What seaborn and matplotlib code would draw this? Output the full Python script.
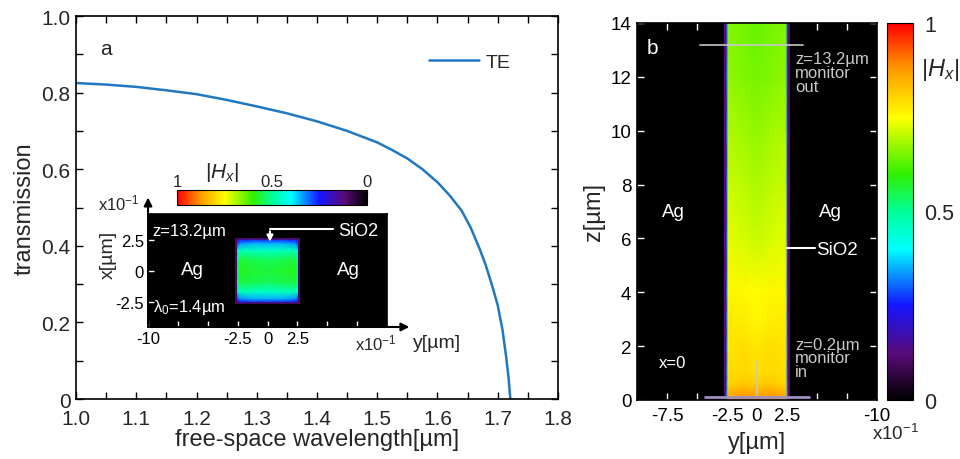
import numpy as np
import matplotlib
matplotlib.use('Agg')
import matplotlib.pyplot as plt
import seaborn as sns
from matplotlib.colors import LinearSegmentedColormap, Normalize
from matplotlib.ticker import MultipleLocator
from matplotlib.patches import Rectangle

# ---------------- data ----------------
wavelength = [1.0, 1.05, 1.1, 1.15, 1.2, 1.25, 1.3, 1.35, 1.4, 1.45, 1.5, 1.525, 1.55,
              1.575, 1.6, 1.62, 1.64, 1.655, 1.67, 1.68, 1.69, 1.7, 1.708, 1.714, 1.718, 1.721]
transmission = [0.825, 0.821, 0.815, 0.806, 0.796, 0.781, 0.764, 0.746, 0.725, 0.700, 0.670,
                0.650, 0.628, 0.600, 0.566, 0.532, 0.492, 0.448, 0.392, 0.350, 0.300, 0.245,
                0.180, 0.110, 0.055, 0.0]

wl_ticks = [1.0, 1.1, 1.2, 1.3, 1.4, 1.5, 1.6, 1.7, 1.8]
wl_labels = ['1.0', '1.1', '1.2', '1.3', '1.4', '1.5', '1.6', '1.7', '1.8']
tr_ticks = [0, 0.2, 0.4, 0.6, 0.8, 1.0]
tr_labels = ['0', '0.2', '0.4', '0.6', '0.8', '1.0']

# inset cross-section field |Hx| at z=13.2um (nodes, units x1e-1 um)
inset_y = [-2.5, -2.3, -1.2, 0, 1.2, 2.3, 2.5]
inset_x = [-2.5, -2.25, -1.7, -0.9, 0, 0.9, 1.7, 2.25, 2.5]
inset_H = [
    [0.20, 0.26, 0.27, 0.27, 0.27, 0.26, 0.20],
    [0.28, 0.33, 0.35, 0.35, 0.35, 0.33, 0.28],
    [0.42, 0.47, 0.46, 0.45, 0.46, 0.47, 0.42],
    [0.50, 0.56, 0.55, 0.54, 0.55, 0.56, 0.50],
    [0.52, 0.58, 0.57, 0.56, 0.57, 0.58, 0.52],
    [0.50, 0.56, 0.55, 0.54, 0.55, 0.56, 0.50],
    [0.42, 0.47, 0.46, 0.45, 0.46, 0.47, 0.42],
    [0.28, 0.33, 0.35, 0.35, 0.35, 0.33, 0.28],
    [0.20, 0.26, 0.27, 0.27, 0.27, 0.26, 0.20],
]
inset_xticks = [-10, -7.5, -5, -2.5, 0, 2.5, 5, 7.5]
inset_xlabels = ['-10', '', '', '-2.5', '0', '2.5', '', '']
inset_yticks = [-2.5, 0, 2.5]
inset_ylabels = ['-2.5', '0', '2.5']

# longitudinal field |Hx| at x=0 (nodes)
strip_y = [-2.5, -2.4, -1.2, 0, 1.2, 2.4, 2.5]
strip_z = [0, 0.3, 0.6, 1, 2, 3, 4, 6, 8, 10, 12, 14]
strip_H = [
    [0.35, 0.86, 0.88, 0.87, 0.88, 0.86, 0.35],
    [0.35, 0.84, 0.86, 0.85, 0.86, 0.84, 0.35],
    [0.33, 0.80, 0.82, 0.81, 0.82, 0.80, 0.33],
    [0.32, 0.79, 0.80, 0.79, 0.80, 0.79, 0.32],
    [0.32, 0.78, 0.79, 0.78, 0.79, 0.78, 0.32],
    [0.31, 0.77, 0.77, 0.76, 0.77, 0.77, 0.31],
    [0.31, 0.76, 0.76, 0.75, 0.76, 0.76, 0.31],
    [0.30, 0.73, 0.72, 0.71, 0.72, 0.73, 0.30],
    [0.30, 0.71, 0.70, 0.69, 0.70, 0.71, 0.30],
    [0.30, 0.69, 0.68, 0.67, 0.68, 0.69, 0.30],
    [0.30, 0.67, 0.66, 0.65, 0.66, 0.67, 0.30],
    [0.30, 0.66, 0.65, 0.64, 0.65, 0.66, 0.30],
]
b_xticks = [-7.5, -5, -2.5, 0, 2.5, 5, 7.5, 10]
b_xlabels = ['-7.5', '', '-2.5', '0', '2.5', '', '', '-10']
b_yticks = [0, 2, 4, 6, 8, 10, 12, 14]
cbar_ticks = [0, 0.5, 1]
cbar_labels = ['0', '0.5', '1']

# ---------------- style ----------------
sns.set_theme(style='ticks')
plt.rcParams['font.family'] = ['Liberation Sans', 'DejaVu Sans']
plt.rcParams['mathtext.fontset'] = 'custom'
plt.rcParams['mathtext.rm'] = 'Liberation Sans'
plt.rcParams['mathtext.it'] = 'Liberation Sans:italic'
plt.rcParams['mathtext.bf'] = 'Liberation Sans:bold'
plt.rcParams['axes.edgecolor'] = 'black'
plt.rcParams['axes.linewidth'] = 1.2

cmap = LinearSegmentedColormap.from_list('hx', [
    (0.0, '#000000'), (0.12, '#5a0a78'), (0.25, '#1414ff'), (0.4, '#00ffff'),
    (0.5, '#00ff99'), (0.6, '#30f000'), (0.75, '#ffff00'), (0.88, '#ff9900'),
    (1.0, '#ff0000')])
norm = Normalize(0, 1)
sm = plt.cm.ScalarMappable(norm=norm, cmap=cmap)

fig = plt.figure(figsize=(9.6, 4.6), dpi=100)

# ---------------- panel a ----------------
ax = fig.add_axes([0.0792, 0.1304, 0.502, 0.8326])
sns.lineplot(x=wavelength, y=transmission, ax=ax, color='#1f78c1', lw=1.8, label='TE')
ax.set_xlim(1.0, 1.8)
ax.set_ylim(0, 1.0)
ax.set_xticks(wl_ticks)
ax.set_xticklabels(wl_labels)
ax.set_yticks(tr_ticks)
ax.set_yticklabels(tr_labels)
ax.xaxis.set_minor_locator(MultipleLocator(0.05))
ax.yaxis.set_minor_locator(MultipleLocator(0.1))
ax.tick_params(which='both', direction='in', top=True, right=True, length=5,
               width=1, labelsize=15, color='black')
ax.tick_params(axis='x', pad=7)
ax.tick_params(axis='y', pad=4)
ax.set_xlabel('free-space wavelength[µm]', fontsize=17, labelpad=0)
ax.set_ylabel('transmission', fontsize=17, labelpad=4)
ax.legend(loc='center right', bbox_to_anchor=(0.937, 0.88), frameon=False,
          fontsize=14, handlelength=2.6, handletextpad=0.3)
ax.text(1.05, 0.914, 'a', fontsize=15, va='center', ha='center')

# ---------------- inset ----------------
axi = fig.add_axes([0.1542, 0.287, 0.249, 0.2457])
axi.set_facecolor('black')
axi.set_xlim(-10, 10)
axi.set_ylim(-4.55, 4.63)
axi.add_patch(Rectangle((-2.72, -2.68), 5.44, 5.36, color=cmap(0.1), lw=0))
axi.pcolormesh(inset_y, inset_x, np.array(inset_H), shading='gouraud', cmap=cmap, norm=norm)
axi.set_xticks(inset_xticks)
axi.set_xticklabels(inset_xlabels)
axi.set_yticks(inset_yticks)
axi.set_yticklabels(inset_ylabels)
axi.tick_params(direction='in', color='white', length=4, width=1, labelsize=12,
                labelcolor='black', pad=3)
for s in axi.spines.values():
    s.set_color('black')
axi.annotate('', xy=(0, 1.17), xytext=(0, 0), xycoords='axes fraction',
             arrowprops=dict(arrowstyle='-|>', color='black', lw=1.5, mutation_scale=12),
             annotation_clip=False)
axi.annotate('', xy=(1.105, 0), xytext=(0, 0), xycoords='axes fraction',
             arrowprops=dict(arrowstyle='-|>', color='black', lw=1.5, mutation_scale=12),
             annotation_clip=False)
axi.text(-9.6, 3.25, 'z=13.2µm', color='white', fontsize=12, va='center', ha='left')
axi.text(-9.6, -2.85, r'λ$_0$=1.4µm', color='white', fontsize=12, va='center', ha='left')
axi.text(-6.3, 0.1, 'Ag', color='white', fontsize=13.5, va='center', ha='center')
axi.text(6.8, 0.1, 'Ag', color='white', fontsize=13.5, va='center', ha='center')
axi.text(5.9, 3.3, 'SiO2', color='white', fontsize=13, va='center', ha='left')
axi.plot([5.5, 0.2], [3.4, 3.4], color='white', lw=1.5)
axi.annotate('', xy=(0.2, 2.15), xytext=(0.2, 3.45),
             arrowprops=dict(arrowstyle='-|>', color='white', lw=1.5, mutation_scale=9))
fig.text(108 / 960, 1 - 255 / 460, 'x[µm]', rotation=90, fontsize=14, ha='center', va='center')
fig.text(437 / 960, 1 - 343 / 460, 'y[µm]', fontsize=14, ha='center', va='center')
fig.text(119 / 960, 1 - 203 / 460, r'x10$^{-1}$', fontsize=12, ha='center', va='center')
fig.text(376 / 960, 1 - 343 / 460, r'x10$^{-1}$', fontsize=12, ha='center', va='center')

# inset colorbar
caxi = fig.add_axes([0.1844, 0.552, 0.198, 0.0326])
cbi = fig.colorbar(sm, cax=caxi, orientation='horizontal')
caxi.invert_xaxis()
caxi.xaxis.set_ticks_position('top')
caxi.set_xticks(cbar_ticks)
caxi.set_xticklabels(cbar_labels)
caxi.xaxis.set_minor_locator(MultipleLocator(0.1))
caxi.tick_params(which='both', direction='in', length=3, width=0.8, color='black',
                 labelsize=12, pad=1)
cbi.outline.set_linewidth(0.8)
fig.text(222 / 960, 1 - 172 / 460, r'$|H_x|$', fontsize=15, ha='center', va='center')

# ---------------- panel b ----------------
axr = fig.add_axes([0.6635, 0.1283, 0.25, 0.8196])
axr.set_facecolor('black')
axr.set_xlim(-10, 10)
axr.set_ylim(0, 14)
axr.axvspan(-2.72, -2.5, color=cmap(0.12), lw=0)
axr.axvspan(2.5, 2.72, color=cmap(0.12), lw=0)
axr.pcolormesh(strip_y, strip_z, np.array(strip_H), shading='gouraud', cmap=cmap, norm=norm)
axr.set_xticks(b_xticks)
axr.set_xticklabels(b_xlabels)
axr.set_yticks(b_yticks)
axr.tick_params(direction='in', color='white', top=True, right=True, length=5, width=1,
                labelsize=13.5, labelcolor='black', pad=4)
axr.tick_params(axis='x', pad=5)
for s in axr.spines.values():
    s.set_color('black')
axr.set_xlabel('y[µm]', fontsize=17, labelpad=5)
axr.set_ylabel('z[µm]', fontsize=17, labelpad=4)

grey = '#c8c8c8'
axr.plot([-4.75, 3.8], [13.2, 13.2], color=grey, lw=1.2)
axr.text(3.2, 12.95, 'z=13.2µm\nmonitor\nout', color=grey, fontsize=12, va='top',
         ha='left', linespacing=0.9)
axr.text(3.2, 2.35, 'z=0.2µm\nmonitor\nin', color=grey, fontsize=12, va='top',
         ha='left', linespacing=0.9)
axr.plot([-4.3, 4.3], [0.12, 0.12], color='#a090c0', lw=2)
axr.plot([0, 0], [0.2, 1.45], color=grey, lw=1.2)
axr.text(-8.7, 13.1, 'b', color='white', fontsize=15, va='center', ha='center')
axr.text(-7.0, 1.41, 'x=0', color='white', fontsize=12, va='center', ha='center')
axr.text(-7.0, 7.0, 'Ag', color='white', fontsize=13.5, va='center', ha='center')
axr.text(6.1, 7.0, 'Ag', color='white', fontsize=13.5, va='center', ha='center')
axr.plot([2.5, 4.8], [5.65, 5.65], color='white', lw=1.5)
axr.text(4.9, 5.6, 'SiO2', color='white', fontsize=13.5, va='center', ha='left')

# right colorbar
caxr = fig.add_axes([0.924, 0.1283, 0.0271, 0.8196])
cbr = fig.colorbar(sm, cax=caxr)
caxr.set_yticks(cbar_ticks)
caxr.set_yticklabels(cbar_labels)
caxr.yaxis.set_minor_locator(MultipleLocator(0.1))
caxr.tick_params(which='both', direction='in', length=3, width=0.8, color='#333333',
                 labelsize=15.5, pad=8)
cbr.outline.set_linewidth(0.8)
fig.text(940 / 960, 1 - 70 / 460, r'$|H_x|$', fontsize=17, ha='center', va='center')
fig.text(895 / 960, 1 - 434 / 460, r'x10$^{-1}$', fontsize=13.5, ha='center', va='center')

fig.savefig('out.png', dpi=100)
